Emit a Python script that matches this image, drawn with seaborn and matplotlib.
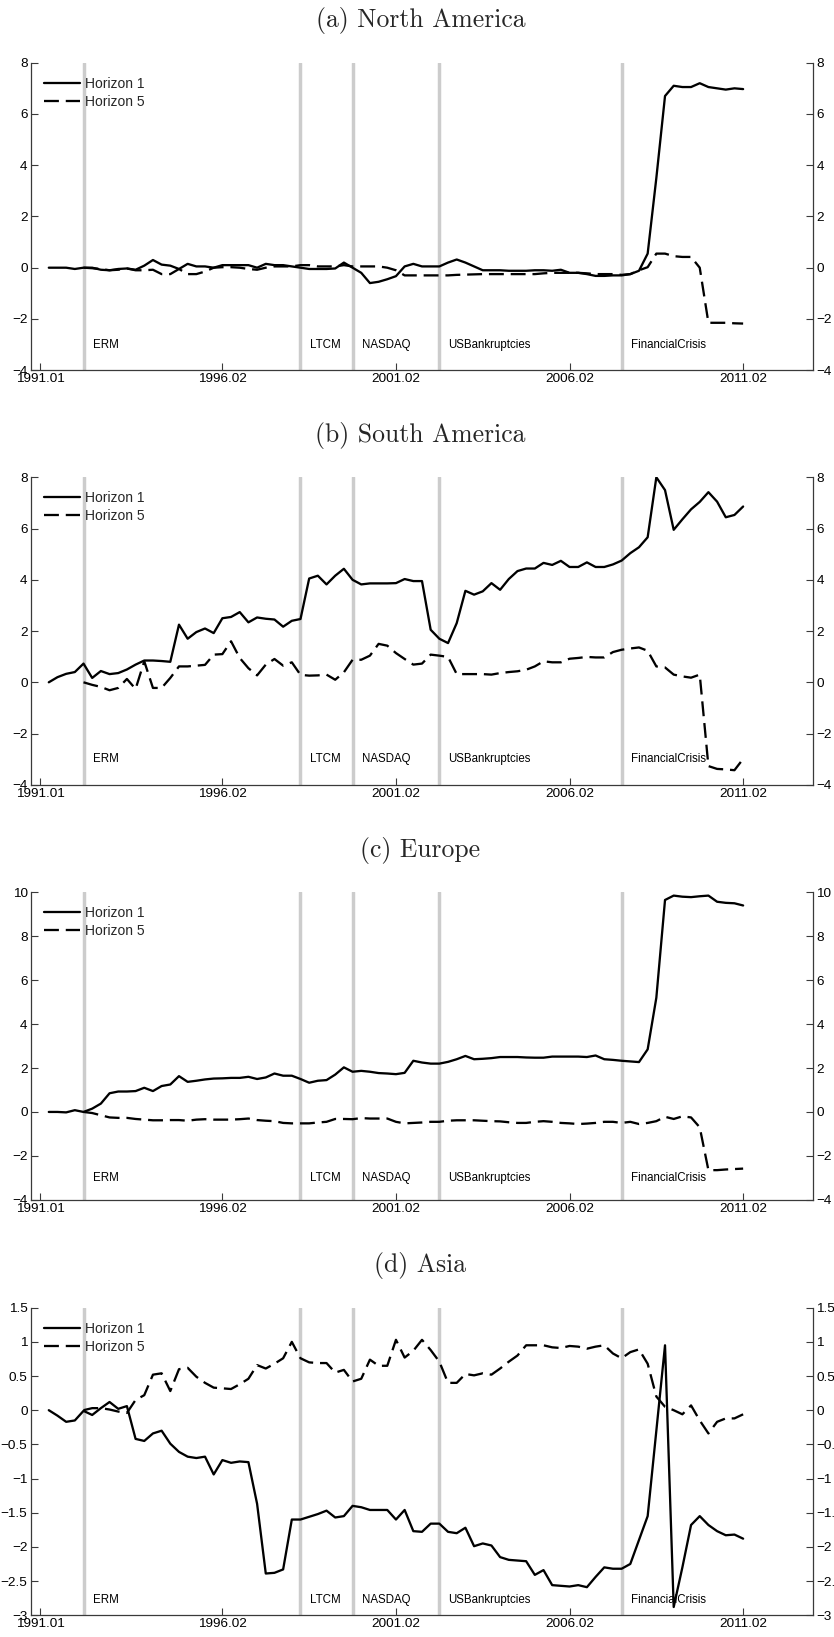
import matplotlib
matplotlib.use("Agg")
import matplotlib.pyplot as plt
import matplotlib.ticker as mticker
import seaborn as sns
import numpy as np
import pandas as pd

# ---------------- data ----------------
panel_titles = ["(a) North America", "(b) South America", "(c) Europe", "(d) Asia"]
series_names = ["Horizon 1", "Horizon 5"]

h1_start = "1991Q2"   # first quarter of Horizon 1
h5_start = "1992Q2"   # first quarter of Horizon 5
end_q = "2011Q2"
base_q = "1991Q1"

tick_quarters = ["1991Q1", "1996Q2", "2001Q2", "2006Q2", "2011Q2"]
tick_labels = ["1991.01", "1996.02", "2001.02", "2006.02", "2011.02"]

event_names = ["ERM", "LTCM", "NASDAQ", "USBankruptcies", "FinancialCrisis"]
event_quarters = ["1992Q2", "1998Q3", "2000Q1", "2002Q3", "2007Q4"]

na_h1 = [0, 0, 0, -0.05, 0.0, 0.0, -0.08, -0.1, -0.05, -0.03,
         -0.08, 0.08, 0.3, 0.12, 0.08, -0.05, 0.15, 0.05, 0.05, 0.0,
         0.1, 0.1, 0.1, 0.1, 0.0, 0.15, 0.1, 0.1, 0.05, 0.0,
         -0.05, -0.05, -0.05, -0.03, 0.2, 0.0, -0.2, -0.6, -0.55, -0.45,
         -0.33, 0.05, 0.15, 0.05, 0.05, 0.05, 0.2, 0.32, 0.2, 0.05,
         -0.1, -0.1, -0.1, -0.12, -0.12, -0.12, -0.1, -0.1, -0.12, -0.08,
         -0.2, -0.2, -0.25, -0.32, -0.32, -0.3, -0.3, -0.25, -0.12, 0.55,
         3.5, 6.7, 7.1, 7.05, 7.05, 7.2, 7.05, 7.0, 6.95, 7.0, 6.97]
na_h5 = [0, -0.02, -0.05, -0.1, -0.08, -0.03, -0.1, -0.1, -0.08, -0.25,
         -0.25, -0.05, -0.25, -0.25, -0.15, 0.0, 0.02, 0.02, 0.0, -0.05,
         -0.08, 0.0, 0.05, 0.05, 0.05, 0.1, 0.1, 0.05, 0.05, 0.05,
         0.1, 0.05, 0.05, 0.05, 0.05, 0.0, -0.1, -0.3, -0.3, -0.3,
         -0.3, -0.3, -0.3, -0.28, -0.27, -0.26, -0.25, -0.25, -0.25, -0.25,
         -0.25, -0.25, -0.25, -0.22, -0.2, -0.2, -0.2, -0.2, -0.22, -0.25,
         -0.25, -0.25, -0.28, -0.25, -0.1, 0.02, 0.55, 0.55, 0.45, 0.42,
         0.42, 0.0, -2.15, -2.15, -2.15, -2.17, -2.18]

sa_h1 = [0, 0.2, 0.33, 0.4, 0.73, 0.17, 0.44, 0.32, 0.36, 0.5,
         0.69, 0.85, 0.85, 0.83, 0.8, 2.25, 1.7, 1.96, 2.1, 1.92,
         2.5, 2.55, 2.74, 2.34, 2.53, 2.48, 2.45, 2.17, 2.4, 2.47,
         4.05, 4.16, 3.82, 4.16, 4.43, 4.0, 3.82, 3.86, 3.86, 3.86,
         3.87, 4.03, 3.95, 3.95, 2.05, 1.7, 1.53, 2.31, 3.57, 3.42,
         3.55, 3.87, 3.61, 4.03, 4.34, 4.44, 4.44, 4.66, 4.58, 4.74,
         4.5, 4.5, 4.68, 4.5, 4.5, 4.6, 4.75, 5.04, 5.27, 5.66,
         8.0, 7.5, 5.95, 6.36, 6.75, 7.04, 7.42, 7.05, 6.44, 6.53, 6.86]
sa_h5 = [0, -0.1, -0.18, -0.31, -0.22, 0.13, -0.26, 0.82, -0.22, -0.22,
         0.17, 0.62, 0.62, 0.65, 0.68, 1.08, 1.1, 1.6, 0.95, 0.55,
         0.27, 0.69, 0.91, 0.65, 0.78, 0.29, 0.26, 0.27, 0.3, 0.1,
         0.39, 0.88, 0.88, 1.04, 1.5, 1.43, 1.14, 0.91, 0.69, 0.73,
         1.08, 1.04, 0.99, 0.32, 0.32, 0.32, 0.32, 0.3, 0.36, 0.4,
         0.43, 0.49, 0.62, 0.82, 0.78, 0.78, 0.92, 0.95, 0.99, 0.97,
         0.97, 1.18, 1.27, 1.32, 1.36, 1.23, 0.62, 0.58, 0.3, 0.23,
         0.18, 0.3, -3.27, -3.38, -3.4, -3.43, -2.99]

eu_h1 = [0, 0, -0.02, 0.08, 0.0, 0.15, 0.38, 0.85, 0.93, 0.93,
         0.95, 1.1, 0.95, 1.18, 1.25, 1.63, 1.37, 1.42, 1.48, 1.52,
         1.53, 1.55, 1.55, 1.6, 1.5, 1.57, 1.75, 1.65, 1.65, 1.5,
         1.33, 1.42, 1.45, 1.7, 2.03, 1.83, 1.87, 1.83, 1.77, 1.75,
         1.72, 1.78, 2.33, 2.25, 2.2, 2.2, 2.28, 2.4, 2.55, 2.4,
         2.42, 2.45, 2.5, 2.5, 2.5, 2.48, 2.47, 2.47, 2.52, 2.52,
         2.52, 2.52, 2.5, 2.57, 2.4, 2.37, 2.33, 2.3, 2.27, 2.85,
         5.2, 9.65, 9.85, 9.8, 9.78, 9.82, 9.85, 9.57, 9.52, 9.5, 9.4]
eu_h5 = [0, -0.05, -0.15, -0.25, -0.27, -0.27, -0.32, -0.35, -0.38, -0.38,
         -0.37, -0.37, -0.4, -0.35, -0.33, -0.35, -0.35, -0.35, -0.33, -0.3,
         -0.37, -0.4, -0.42, -0.5, -0.52, -0.52, -0.52, -0.48, -0.45, -0.32,
         -0.32, -0.33, -0.28, -0.3, -0.3, -0.3, -0.45, -0.52, -0.5, -0.48,
         -0.45, -0.45, -0.4, -0.38, -0.38, -0.38, -0.4, -0.42, -0.43, -0.47,
         -0.5, -0.5, -0.45, -0.42, -0.45, -0.5, -0.52, -0.55, -0.53, -0.5,
         -0.45, -0.45, -0.5, -0.45, -0.55, -0.5, -0.42, -0.22, -0.32, -0.2,
         -0.25, -0.7, -2.65, -2.65, -2.62, -2.6, -2.58]

as_h1 = [0, -0.08, -0.17, -0.15, -0.01, -0.07, 0.03, 0.12, 0.02, 0.06,
         -0.42, -0.45, -0.34, -0.3, -0.49, -0.61, -0.68, -0.7, -0.68, -0.94,
         -0.73, -0.77, -0.75, -0.76, -1.37, -2.39, -2.38, -2.33, -1.6, -1.6,
         -1.56, -1.52, -1.47, -1.57, -1.55, -1.4, -1.42, -1.46, -1.46, -1.46,
         -1.6, -1.46, -1.77, -1.78, -1.66, -1.66, -1.78, -1.8, -1.72, -1.99,
         -1.95, -1.98, -2.15, -2.19, -2.2, -2.21, -2.41, -2.34, -2.56, -2.57,
         -2.58, -2.56, -2.59, -2.44, -2.3, -2.32, -2.32, -2.25, -1.9, -1.55,
         -0.3, 0.95, -2.88, -2.3, -1.68, -1.55, -1.68, -1.77, -1.83, -1.82, -1.88]
as_h5 = [0, 0.03, 0.03, 0.01, -0.02, -0.04, 0.15, 0.22, 0.52, 0.54,
         0.28, 0.6, 0.62, 0.49, 0.4, 0.33, 0.32, 0.31, 0.38, 0.46,
         0.66, 0.61, 0.68, 0.76, 1.0, 0.76, 0.7, 0.69, 0.69, 0.55,
         0.59, 0.42, 0.46, 0.74, 0.65, 0.65, 1.03, 0.77, 0.87, 1.03,
         0.88, 0.71, 0.4, 0.4, 0.53, 0.51, 0.54, 0.52, 0.61, 0.71,
         0.8, 0.95, 0.95, 0.95, 0.92, 0.91, 0.94, 0.93, 0.9, 0.93,
         0.95, 0.83, 0.76, 0.85, 0.89, 0.68, 0.2, 0.05, 0.0, -0.06,
         0.07, -0.15, -0.34, -0.17, -0.12, -0.12, -0.06]

h1_data = [na_h1, sa_h1, eu_h1, as_h1]
h5_data = [na_h5, sa_h5, eu_h5, as_h5]

y_limits = [(-4, 8), (-4, 8), (-4, 10), (-3, 1.5)]
y_steps = [2, 2, 2, 0.5]
event_label_y = [-3, -3, -3, -2.78]

# ---------------- helpers ----------------
base = pd.Period(base_q, freq="Q")


def q_index(periods):
    return [p.ordinal - base.ordinal for p in periods]


x_h1 = q_index(pd.period_range(h1_start, end_q, freq="Q"))
x_h5 = q_index(pd.period_range(h5_start, end_q, freq="Q"))
x_ticks = q_index([pd.Period(q, freq="Q") for q in tick_quarters])
x_events = q_index([pd.Period(q, freq="Q") for q in event_quarters])

# ---------------- style ----------------
sns.set_theme(style="white")
plt.rcParams["font.family"] = ["Liberation Sans", "DejaVu Sans"]
plt.rcParams["axes.unicode_minus"] = True

W, H = 834, 1637
fig = plt.figure(figsize=(W / 100, H / 100), dpi=100)

left_px, right_px = 31, 813
tops_px = [62.7, 477.3, 892.3, 1307.7]
h_px = 307.5


def fmt(v, pos):
    s = "%g" % v
    return s.replace("-", "\u2212")


spine_col = "#3a3a3a"
for i in range(4):
    top = tops_px[i]
    ax = fig.add_axes([left_px / W, 1 - (top + h_px) / H,
                       (right_px - left_px) / W, h_px / H])
    ax.set_facecolor("white")

    for xe in x_events:
        ax.axvline(xe, color="#cccccc", lw=2.5, zorder=1)

    df1 = pd.DataFrame({"t": x_h1, "v": h1_data[i]})
    df5 = pd.DataFrame({"t": x_h5, "v": h5_data[i]})
    sns.lineplot(data=df1, x="t", y="v", ax=ax, color="black", lw=1.65,
                 label=series_names[0], zorder=3)
    sns.lineplot(data=df5, x="t", y="v", ax=ax, color="black", lw=1.65,
                 label=series_names[1], zorder=3)
    ax.lines[-1].set_dashes((6.5, 3))

    ax.set_xlim(-1.05, 89.05)
    lo, hi = y_limits[i]
    ax.set_ylim(lo, hi)
    ax.set_yticks(np.arange(lo, hi + 1e-9, y_steps[i]))
    ax.yaxis.set_major_formatter(mticker.FuncFormatter(fmt))
    ax.set_xticks(x_ticks)
    ax.set_xticklabels(tick_labels)
    ax.set_xlabel("")
    ax.set_ylabel("")

    for s in ["left", "right", "bottom"]:
        ax.spines[s].set_visible(True)
        ax.spines[s].set_color(spine_col)
        ax.spines[s].set_linewidth(0.9)
    ax.spines["top"].set_visible(False)

    ax.tick_params(axis="both", direction="in", length=5, width=0.8,
                   color=spine_col, labelsize=9.7, labelcolor="black")
    ax.tick_params(axis="y", left=True, right=True, labelleft=True,
                   labelright=True, pad=2.5)
    ax.tick_params(axis="x", bottom=True, top=False, pad=2)

    for name, xe in zip(event_names, x_events):
        ax.text(xe + 1.05, event_label_y[i], name, fontsize=8.3,
                ha="left", va="center", color="black", zorder=4)

    ax.legend(loc="upper left", bbox_to_anchor=(0.017, 0.955),
              frameon=False, fontsize=10, handlelength=2.6,
              handletextpad=0.3, labelspacing=0.3, borderpad=0,
              borderaxespad=0)

    fig.text(420.5 / W, 1 - (top - 42) / H, panel_titles[i],
             family="cmr10", fontsize=18.5, ha="center", va="center")

fig.savefig("out.png", dpi=100)
